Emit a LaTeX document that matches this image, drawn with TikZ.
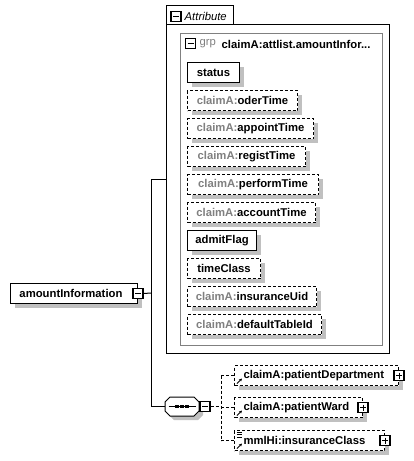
\documentclass[tikz,border=0pt]{standalone}
\usepackage{fontspec}
\setmainfont{Liberation Sans}
\usetikzlibrary{shadows,arrows.meta}
\definecolor{shd}{HTML}{C0C0C0}
\definecolor{pfx}{HTML}{808080}
\definecolor{grpline}{HTML}{808080}
\newcommand{\pf}[1]{\textcolor{pfx}{#1}}
\begin{document}
\begin{tikzpicture}[x=1pt,y=-1pt,
  every node/.style={font=\fontsize{11.3}{13}\selectfont},
  shadowed/.style={drop shadow={shadow xshift=4pt, shadow yshift=-4pt, fill=shd, opacity=1}},
  box/.style={draw, line width=1pt, fill=white, minimum height=20pt, inner sep=0pt,
    anchor=north west, font=\fontsize{11.3}{13}\selectfont\bfseries, shadowed},
  opt/.style={box, dash pattern=on 3pt off 2pt},
  lbox/.style={inner xsep=9pt, align=left},
  pm/.style={draw, line width=1.2pt, fill=white, minimum size=10pt, inner sep=0pt},
  minus/.style={pm, path picture={\draw[line width=1pt]
    ([xshift=2pt]path picture bounding box.west) -- ([xshift=-2pt]path picture bounding box.east);}},
  plus/.style={pm, path picture={\draw[line width=1pt]
    ([xshift=2pt]path picture bounding box.west) -- ([xshift=-2pt]path picture bounding box.east)
    ([yshift=-2pt]path picture bounding box.north) -- ([yshift=2pt]path picture bounding box.south);}},
  conn/.style={line width=1pt},
  dconn/.style={line width=1pt, dash pattern=on 3pt off 2pt},
  refarrow/.style={line width=1pt, -{Stealth[length=3pt,width=3pt]}},
]
\useasboundingbox (0,0) rectangle (413,461);

% Attribute container
\node (attr) [draw, line width=1pt, anchor=north west, minimum width=223pt, minimum height=329pt, inner sep=0pt] at (166,24) {};
\draw[line width=1pt] (166,24) -- (166,5) -- (233,5) -- (233,24);
\node (attrmin) [minus] at (176,16.5) {};
\node (attrlbl) [anchor=west, inner sep=0pt, font=\fontsize{11.3}{13}\selectfont\itshape] at (184.5,16) {Attribute};

% Attribute group
\node (grp) [draw=grpline, line width=1pt, anchor=north west, minimum width=202pt, minimum height=312pt, inner sep=0pt] at (180,33) {};
\node (grpmin) [minus] at (190.5,43.5) {};
\node (grpkw) [anchor=west, inner sep=0pt, text=pfx] at (199.5,44) {grp};
\node (grpname) [anchor=west, inner sep=0pt, font=\fontsize{11.3}{13}\selectfont\bfseries] at (221.5,44) {claimA:attlist.amountInfor...};

% Attributes
\node (a1) [box, minimum width=52pt] at (187,62) {status};
\node (a2) [opt, minimum width=110pt] at (187,90) {\pf{claimA:}oderTime};
\node (a3) [opt, minimum width=126pt] at (187,118) {\pf{claimA:}appointTime};
\node (a4) [opt, minimum width=118pt] at (187,146) {\pf{claimA:}registTime};
\node (a5) [opt, minimum width=131pt] at (187,174) {\pf{claimA:}performTime};
\node (a6) [opt, minimum width=128pt] at (187,202) {\pf{claimA:}accountTime};
\node (a7) [box, minimum width=69pt] at (187,230) {admitFlag};
\node (a8) [opt, minimum width=73pt] at (187,258) {timeClass};
\node (a9) [opt, minimum width=129pt] at (187,286) {\pf{claimA:}insuranceUid};
\node (a10) [opt, minimum width=134pt] at (187,314) {\pf{claimA:}defaultTableId};

% Root element
\node (root) [box, lbox, text width=109pt] at (10,283) {amountInformation};
\node (rootmin) [minus] at (root.east) {};

% Sequence compositor (octagon)
\node (seq) [minimum width=34pt, minimum height=19pt, inner sep=0pt] at (182,406.5) {};
\fill[shd, shift={(seq.center)}, shift={(4,4)}]
  (-17,-4.5) -- (-12,-9.5) -- (12,-9.5) -- (17,-4.5) -- (17,4.5) -- (12,9.5) -- (-12,9.5) -- (-17,4.5) -- cycle;
\filldraw[fill=white, draw=black, line width=1pt, shift={(seq.center)}]
  (-17,-4.5) -- (-12,-9.5) -- (12,-9.5) -- (17,-4.5) -- (17,4.5) -- (12,9.5) -- (-12,9.5) -- (-17,4.5) -- cycle;
\draw[line width=1.1pt, shift={(seq.center)}] (-13.5,0) -- (13.5,0);
\foreach \dx in {-5,0,5} \fill[shift={(seq.center)}] (\dx-1.6,-1.6) rectangle (\dx+1.6,1.6);
\node (seqmin) [minus] at (205,406.5) {};

% Children
\node (c1) [opt, lbox, text width=146pt] at (234,365) {claimA:patientDepartment};
\node (c1pm) [plus] at (c1.east) {};
\node (c2) [opt, lbox, text width=110pt] at (234,397) {claimA:patientWard};
\node (c2pm) [plus] at (c2.east) {};
\node (c3) [opt, lbox, text width=132pt] at (234,430) {mmlHi:insuranceClass};
\node (c3pm) [plus] at (c3.east) {};
\foreach \c in {c1,c2,c3}
  \draw[refarrow] ([shift={(3,-2.5)}]\c.south west) -- ([shift={(8,-7.5)}]\c.south west);
\foreach \dy in {2,4.5,7}
  \draw[line width=0.9pt] ([shift={(2.5,\dy)}]c3.north west) -- ++(5,0);

% Connectors
\coordinate (j) at (151,293);
\coordinate (jt) at (151,179);
\coordinate (jb) at (151,406.5);
\draw[conn] (rootmin.east) -- (j);
\draw[conn] (jt) -- (jb);
\draw[conn] (jt) -- (jt -| attr.west);
\draw[conn] (jb) -- (seq.west);
\coordinate (k) at (221,406.5);
\draw[dconn] (seqmin.east) -- (k);
\draw[dconn] (c1.west -| k) -- (c3.west -| k);
\draw[dconn] (c1.west -| k) -- (c1.west);
\draw[dconn] (c2.west -| k) -- (c2.west);
\draw[dconn] (c3.west -| k) -- (c3.west);
\end{tikzpicture}
\end{document}
